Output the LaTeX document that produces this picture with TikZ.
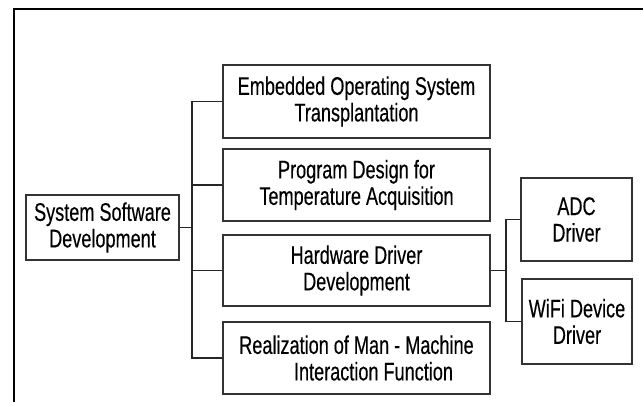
\documentclass[tikz,border=0pt]{standalone}
\usepackage{fontspec}
\setmainfont[FakeStretch=0.71,FakeBold=0.3]{Liberation Sans}
\begin{document}
\begin{tikzpicture}[x=1pt,y=1pt,
  box/.style={draw=black!80,line width=1.3pt,align=center,inner sep=0pt,
    font=\fontsize{25.5}{26.5}\selectfont,text=black},
  link/.style={draw=black!85,line width=1.2pt}]
\useasboundingbox (0,0) rectangle (643,402);
% outer frame (top and left edges)
\draw[line width=2.6pt] (14,0) -- (14,393) -- (643,393);
% nodes
\node[box,minimum width=153pt,minimum height=65pt] (sys) at (102.5,174.5) {System Software\\Development};
\node[box,minimum width=267pt,minimum height=73pt] (emb) at (356.5,300.5) {Embedded Operating System\\Transplantation};
\node[box,minimum width=267pt,minimum height=72pt] (prog) at (356.5,217) {Program Design for\\Temperature Acquisition};
\node[box,minimum width=267pt,minimum height=71pt] (hw) at (356.5,131.5) {Hardware Driver\\Development};
\node[box,minimum width=267pt,minimum height=72pt] (real) at (356.5,44) {Realization of Man - Machine\\\hspace*{34pt}Interaction Function};
\node[box,minimum width=111pt,minimum height=83pt] (adc) at (576.5,182.5) {ADC\\Driver};
\node[box,minimum width=110pt,minimum height=85pt] (wifi) at (577,80.5) {WiFi Device\\Driver};
% junction columns
\coordinate (j1) at (192,174);
\coordinate (j2) at (506,130);
% connectors
\draw[link] (sys.east) -- (sys.east -| j1);
\draw[link] (emb.west) -| (j1) |- (real.west);
\draw[link] (prog.west) -- (prog.west -| j1);
\draw[link] (hw.west) -- (hw.west -| j1);
\draw[link] (hw.east) -- (hw.east -| j2);
\draw[link] (adc.west) -| (j2) |- (wifi.west);
\end{tikzpicture}
\end{document}
